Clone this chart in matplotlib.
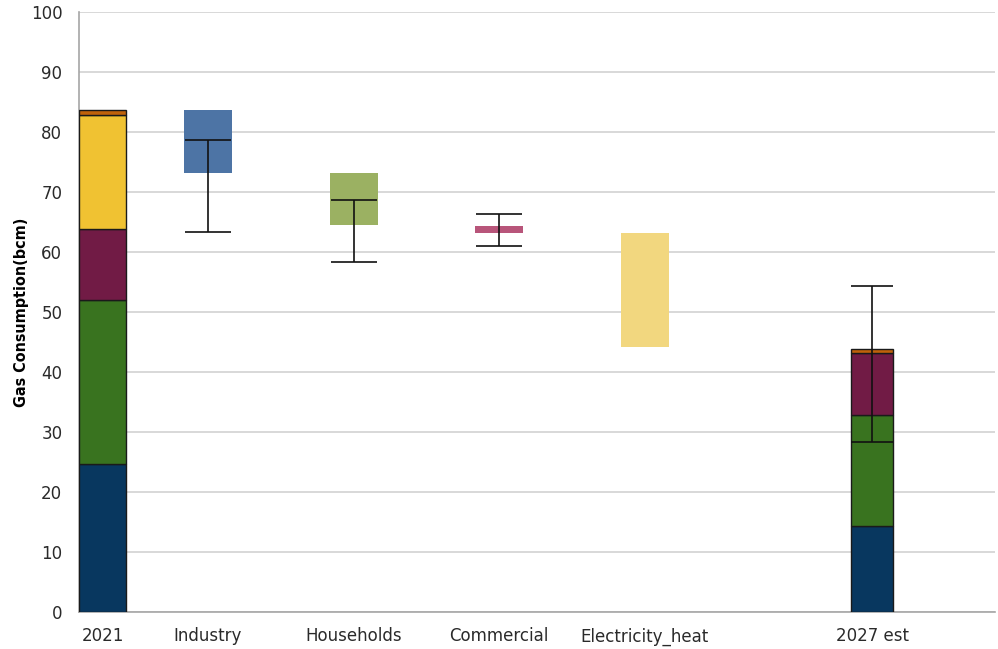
import matplotlib
matplotlib.use("Agg")
import matplotlib.pyplot as plt

# Categories along the x axis
categories = ["2021", "Industry", "Households", "Commercial", "Electricity_heat", "2027 est"]

# Sector stacks for the two totals (bcm)
sectors = ["Industry", "Households", "Commercial", "Electricity_heat", "Other"]
stack_2021 = [24.7, 27.3, 11.8, 19.0, 0.8]
stack_2027 = [14.4, 18.4, 10.3, 0.0, 0.8]

# Floating reduction bars (bottom, top) for each sector step
step_names = ["Industry", "Households", "Commercial", "Electricity_heat"]
step_top = [83.6, 73.2, 64.4, 63.2]
step_bottom = [73.1, 64.5, 63.2, 44.1]

# Uncertainty ranges: (category, centre, low, high)
err_names = ["Industry", "Households", "Commercial", "2027 est"]
err_centre = [78.6, 68.7, 63.8, 44.0]
err_low = [63.3, 58.3, 61.0, 28.3]
err_high = [78.6, 68.7, 66.3, 54.3]

# Styling
stack_colors = ["#08375f", "#39731f", "#711b45", "#f0c232", "#c0620a"]
step_colors = ["#4d74a5", "#9bb162", "#b8557a", "#f2d77f"]
positions = {"2021": 0.235, "Industry": 1.29, "Households": 2.75,
             "Commercial": 4.20, "Electricity_heat": 5.66, "2027 est": 7.93}
widths = {"2021": 0.47, "2027 est": 0.42}
box_width = 0.48

fig = plt.figure(figsize=(9.98, 6.49), dpi=100)
ax = fig.add_axes([79 / 998, 37 / 649, 916 / 998, 600 / 649])

# Stacked totals
for name, stack in (("2021", stack_2021), ("2027 est", stack_2027)):
    bottom = 0.0
    for val, col in zip(stack, stack_colors):
        if val > 0:
            ax.bar(positions[name], val, bottom=bottom, width=widths[name],
                   color=col, edgecolor="#1a1a1a", linewidth=1.0, zorder=3)
        bottom += val

# Floating step bars
for name, top, bot, col in zip(step_names, step_top, step_bottom, step_colors):
    ax.bar(positions[name], top - bot, bottom=bot, width=box_width,
           color=col, edgecolor="none", zorder=3)

# Error bars (capsize is half the cap length in points)
for name, c, lo, hi in zip(err_names, err_centre, err_low, err_high):
    cap = 15 if name == "2027 est" else 16.5
    ax.errorbar(positions[name], c, yerr=[[c - lo], [hi - c]], fmt="none",
                ecolor="#111111", elinewidth=1.2, capsize=cap, capthick=1.2,
                zorder=4)

ax.set_xlim(0, 9.16)
ax.set_ylim(0, 100)
ax.set_yticks(range(0, 101, 10))
ax.set_xticks([positions[c] for c in categories])
ax.set_xticklabels(categories)

ax.yaxis.grid(True, color="#d6d6d6", linewidth=1.3, zorder=0)
ax.set_axisbelow(True)
for side in ("top", "right"):
    ax.spines[side].set_visible(False)
for side in ("left", "bottom"):
    ax.spines[side].set_color("#a6a6a6")
    ax.spines[side].set_linewidth(1.2)

ax.tick_params(axis="both", length=0, labelsize=12, colors="#2a2a2a")
ax.tick_params(axis="y", pad=12)
ax.tick_params(axis="x", pad=11)
for lbl in ax.get_xticklabels() + ax.get_yticklabels():
    lbl.set_family(["DejaVu Sans"])

ax.set_ylabel("Gas Consumption(bcm)", fontsize=11.5, fontweight="bold",
              family=["DejaVu Sans"], fontstretch="condensed", labelpad=1)

fig.savefig("out.png", dpi=100)
